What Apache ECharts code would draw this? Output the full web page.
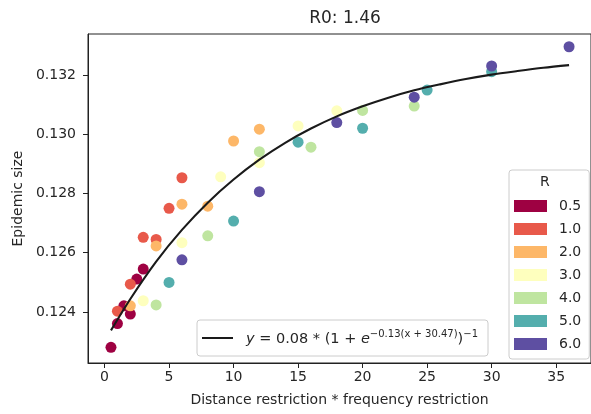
<!DOCTYPE html>
<html><head><meta charset="utf-8">
<script src="https://cdn.jsdelivr.net/npm/echarts@6/dist/echarts.min.js"></script>
<style>html,body{margin:0;padding:0;background:#fff}#c{width:591px;height:414px}</style>
</head><body><div id="c"></div>
<script>
// ---- data ----
const rNames = ['0.5', '1.0', '2.0', '3.0', '4.0', '5.0', '6.0'];
const rColors = ['#9e0142', '#e8594a', '#fdb768', '#feffbe', '#bfe5a0', '#54aead', '#5e4fa2'];
const x_R05 = [0.5, 1, 1.5, 2, 2.5, 3];
const y_R05 = [0.12281, 0.12361, 0.12421, 0.12393, 0.12511, 0.12545];
const x_R10 = [1, 2, 3, 4, 5, 6];
const y_R10 = [0.12403, 0.12494, 0.12652, 0.12645, 0.12750, 0.12853];
const x_R20 = [2, 4, 6, 8, 10, 12];
const y_R20 = [0.12421, 0.12623, 0.12764, 0.12757, 0.12977, 0.13017];
const x_R30 = [3, 6, 9, 12, 15, 18];
const y_R30 = [0.12438, 0.12634, 0.12856, 0.12904, 0.13028, 0.13079];
const x_R40 = [4, 8, 12, 16, 20, 24];
const y_R40 = [0.12424, 0.12657, 0.12941, 0.12956, 0.13080, 0.13095];
const x_R50 = [5, 10, 15, 20, 25, 30];
const y_R50 = [0.12500, 0.12707, 0.12973, 0.13020, 0.13149, 0.13211];
const x_R60 = [6, 12, 18, 24, 30, 36];
const y_R60 = [0.12576, 0.12806, 0.13039, 0.13125, 0.13230, 0.13295];
const fitX = [0.5, 2, 4, 6, 8, 10, 12, 14, 16, 18, 20, 22, 24, 26, 28, 30, 32, 34, 36];
const fitY = [0.12338, 0.12444, 0.12570, 0.12677, 0.12769, 0.12847, 0.12914, 0.12971, 0.13019, 0.13060,
              0.13094, 0.13123, 0.13148, 0.13168, 0.13186, 0.13201, 0.13213, 0.13224, 0.13233];
const fitName = 'y = 0.08*(1 + e^(−0.13(x + 30.47)))^−1';
const xTicks = [0, 5, 10, 15, 20, 25, 30, 35];
const yTicks = [0.124, 0.126, 0.128, 0.130, 0.132];
const titleText = 'R0: 1.46';
const xTitle = 'Distance restriction * frequency restriction';
const yTitle = 'Epidemic size';
const legendTitle = 'R';

const groupsX = [x_R05, x_R10, x_R20, x_R30, x_R40, x_R50, x_R60];
const groupsY = [y_R05, y_R10, y_R20, y_R30, y_R40, y_R50, y_R60];
const pair = (xs, ys) => xs.map((v, i) => [v, ys[i]]);

const FONT = '"DejaVu Sans", sans-serif';
const TXT = '#262626';

const chart = echarts.init(document.getElementById('c'), null, {renderer: 'canvas'});

const scatterSeries = rNames.map((n, i) => ({
  name: n, type: 'scatter', data: pair(groupsX[i], groupsY[i]),
  symbol: 'circle', symbolSize: 11,
  itemStyle: {color: rColors[i], opacity: 1},
  emphasis: {disabled: true}, z: 2 + i
}));

chart.setOption({
  animation: false,
  textStyle: {fontFamily: FONT},
  title: {
    text: titleText, left: 340, top: 5, textAlign: 'center',
    textStyle: {fontFamily: FONT, fontSize: 17, fontWeight: 'normal', color: TXT}
  },
  grid: {left: 88, top: 34, width: 504, height: 329, show: true, borderColor: '#222', borderWidth: 1, backgroundColor: 'transparent'},
  xAxis: {
    type: 'value', min: -1.28, max: 37.7,
    name: xTitle, nameLocation: 'middle', nameGap: 30,
    nameTextStyle: {fontFamily: FONT, fontSize: 14, color: TXT},
    axisLine: {show: true, onZero: false, lineStyle: {color: '#222', width: 1}},
    axisTick: {show: true, length: 5, customValues: xTicks, lineStyle: {color: '#222', width: 1}},
    axisLabel: {customValues: xTicks, margin: 7, fontFamily: FONT, fontSize: 14, color: TXT, formatter: v => String(v)},
    splitLine: {show: false}
  },
  yAxis: {
    type: 'value', min: 0.12228, max: 0.13338,
    name: yTitle, nameLocation: 'middle', nameGap: 58, nameRotate: 90,
    nameTextStyle: {fontFamily: FONT, fontSize: 14, color: TXT},
    axisLine: {show: true, onZero: false, lineStyle: {color: '#222', width: 1}},
    axisTick: {show: true, length: 5, customValues: yTicks, lineStyle: {color: '#222', width: 1}},
    axisLabel: {customValues: yTicks, margin: 12, fontFamily: FONT, fontSize: 14, color: TXT, formatter: v => v.toFixed(3)},
    splitLine: {show: false}
  },
  legend: [
    {
      data: rNames, orient: 'vertical', left: 509, top: 170,
      itemWidth: 33, itemHeight: 12, itemGap: 9,
      icon: 'rect',
      padding: [29, 8, 8, 5],
      borderColor: '#cccccc', borderWidth: 1, borderRadius: 3, backgroundColor: 'rgba(255,255,255,0.8)',
      textStyle: {fontFamily: FONT, fontSize: 14, color: TXT, padding: [0, 0, 0, 7], lineHeight: 14},
      selectedMode: false
    },
    {
      data: [{name: fitName, icon: 'rect'}], orient: 'horizontal', left: 197, top: 320,
      itemWidth: 31, itemHeight: 2, padding: [9, 10, 9, 5],
      borderColor: '#cccccc', borderWidth: 1, borderRadius: 3, backgroundColor: 'rgba(255,255,255,0.8)',
      selectedMode: false,
      formatter: () => '{i|y}{n| = 0.08 * (1 + }{i|e}{s|−0.13(x + 30.47)}{n|)}{s|−1}',
      textStyle: {
        fontFamily: FONT, fontSize: 14, color: TXT, padding: [0, 0, 0, 8],
        rich: {
          n: {fontFamily: FONT, fontSize: 14.5, color: TXT, lineHeight: 18, verticalAlign: 'bottom'},
          i: {fontFamily: FONT, fontSize: 14.5, fontStyle: 'italic', color: TXT, lineHeight: 18, verticalAlign: 'bottom'},
          s: {fontFamily: FONT, fontSize: 10, color: TXT, lineHeight: 18, verticalAlign: 'top'}
        }
      }
    }
  ],
  graphic: [{
    type: 'text', left: 540, top: 175, z: 100,
    style: {text: legendTitle, font: '14px "DejaVu Sans", sans-serif', fill: TXT}
  }],
  series: scatterSeries.concat([{
    name: fitName, type: 'line', data: pair(fitX, fitY), smooth: 0.3,
    symbol: 'none', showSymbol: false,
    lineStyle: {color: '#1a1a1a', width: 2.1},
    itemStyle: {color: '#1a1a1a'},
    emphasis: {disabled: true}, z: 20
  }])
});
</script></body></html>
